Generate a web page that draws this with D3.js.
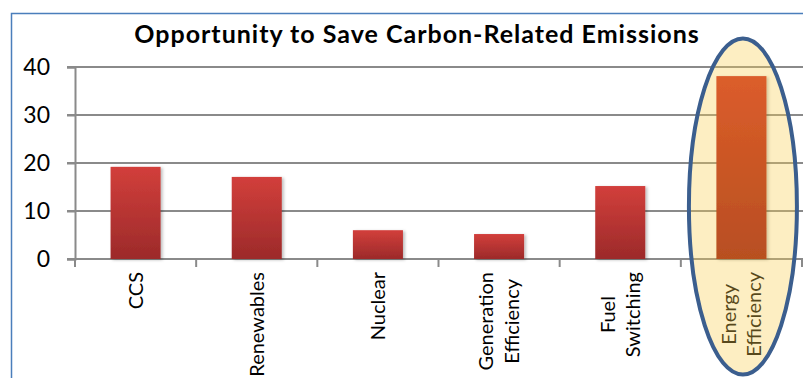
<!DOCTYPE html>
<html>
<head>
    <title>Opportunity to Save Carbon-Related Emissions</title>
    <script src="https://d3js.org/d3.v7.min.js"></script>
    <style>
        body { margin: 0; background: #fff; }
        text { font-family: Lato, Carlito, Calibri, sans-serif; }
    </style>
</head>
<body>
<script>
// chart values
const categories = ['CCS', 'Renewables', 'Nuclear', 'Generation\nEfficiency', 'Fuel\nSwitching', 'Energy\nEfficiency'];
const savings = [19.2, 17.1, 6.0, 5.2, 15.2, 38.1];
const yTicks = [0, 10, 20, 30, 40];
const highlighted = 'Energy\nEfficiency';
const chartTitle = 'Opportunity to Save Carbon-Related Emissions';

const W = 803, H = 378;
const plot = { left: 75, right: 802, top: 67, bottom: 259 };

const svg = d3.select('body')
    .append('svg')
    .attr('width', W)
    .attr('height', H);

const defs = svg.append('defs');

function addGradient(id, top, bottom) {
    const g = defs.append('linearGradient')
        .attr('id', id)
        .attr('x1', 0).attr('y1', 0)
        .attr('x2', 0).attr('y2', 1);
    g.append('stop').attr('offset', '0%').attr('stop-color', top);
    g.append('stop').attr('offset', '100%').attr('stop-color', bottom);
}
addGradient('redBar', '#d23f3b', '#9c2a2a');
addGradient('orangeBar', '#cc2116', '#950b06');

defs.append('filter')
    .attr('id', 'shadow')
    .attr('x', '-20%').attr('y', '-20%')
    .attr('width', '150%').attr('height', '150%')
    .append('feDropShadow')
    .attr('dx', 2).attr('dy', 1)
    .attr('stdDeviation', 1.5)
    .attr('flood-color', '#000')
    .attr('flood-opacity', 0.25);

// outer frame (only top and left edge visible)
svg.append('path')
    .attr('d', `M11.5,${H} L11.5,13.5 L${W},13.5`)
    .attr('fill', 'none')
    .attr('stroke', '#4a7ebb')
    .attr('stroke-width', 1.5);

const x = d3.scaleBand()
    .domain(categories)
    .range([plot.left, plot.right])
    .paddingInner(0.587)
    .paddingOuter(0.2935);

const y = d3.scaleLinear()
    .domain([0, 40])
    .range([plot.bottom, plot.top]);

// gridlines
svg.append('g')
    .selectAll('line')
    .data(yTicks)
    .enter()
    .append('line')
    .attr('x1', plot.left - 8)
    .attr('x2', W)
    .attr('y1', d => y(d))
    .attr('y2', d => y(d))
    .attr('stroke', '#8a8a8a')
    .attr('stroke-width', 2);

// y axis
const yAxis = svg.append('g')
    .attr('transform', `translate(${plot.left},0)`)
    .call(d3.axisLeft(y).tickValues(yTicks).tickSize(8).tickPadding(17));
yAxis.select('.domain').attr('stroke', '#8a8a8a').attr('stroke-width', 2);
yAxis.selectAll('.tick line').attr('stroke', '#8a8a8a').attr('stroke-width', 2);
yAxis.selectAll('.tick text')
    .attr('fill', '#000')
    .style('font-size', '23px');

// x tick marks at band edges
const step = x.step();
const edges = categories.map(c => x(c) - (step - x.bandwidth()) / 2).concat([plot.right]);
svg.append('g')
    .selectAll('line')
    .data(edges)
    .enter()
    .append('line')
    .attr('x1', d => d)
    .attr('x2', d => d)
    .attr('y1', plot.bottom)
    .attr('y2', plot.bottom + 8)
    .attr('stroke', '#8a8a8a')
    .attr('stroke-width', 2);

// bars
svg.append('g')
    .selectAll('rect')
    .data(categories.map((c, i) => ({ c, v: savings[i] })))
    .enter()
    .append('rect')
    .attr('x', d => x(d.c))
    .attr('y', d => y(d.v))
    .attr('width', x.bandwidth())
    .attr('height', d => y(0) - y(d.v))
    .attr('fill', d => d.c === highlighted ? 'url(#orangeBar)' : 'url(#redBar)')
    .attr('filter', 'url(#shadow)');

// category labels, rotated
const labelTop = 272;
const labels = svg.append('g');
categories.forEach(c => {
    const lines = c.split('\n');
    const cx = x(c) + x.bandwidth() / 2;
    const g = labels.append('g');
    const texts = lines.map((ln, i) => g.append('text')
        .attr('dy', '0.35em')
        .style('font-size', '20px')
        .attr('fill', '#000')
        .text(ln));
    const longest = d3.max(texts, t => t.node().getComputedTextLength());
    texts.forEach((t, i) => {
        const lx = cx + (i - (lines.length - 1) / 2) * 25.5;
        const ly = labelTop + longest / 2;
        t.attr('text-anchor', 'middle')
            .attr('transform', `translate(${lx},${ly}) rotate(-90)`);
    });
});

// title
svg.append('text')
    .attr('x', 417)
    .attr('y', 43)
    .attr('text-anchor', 'middle')
    .style('font-size', '25px')
    .style('font-weight', 'bold')
    .style('letter-spacing', '1px')
    .attr('fill', '#000')
    .text(chartTitle);

// highlight ellipse around the largest opportunity
const hx = x(highlighted) + x.bandwidth() / 2;
svg.append('ellipse')
    .attr('cx', hx + 1.5)
    .attr('cy', 206.5)
    .attr('rx', 54)
    .attr('ry', 168)
    .attr('fill', 'rgba(249,206,81,0.35)')
    .attr('stroke', '#3b5e8e')
    .attr('stroke-width', 4);
</script>
</body>
</html>
